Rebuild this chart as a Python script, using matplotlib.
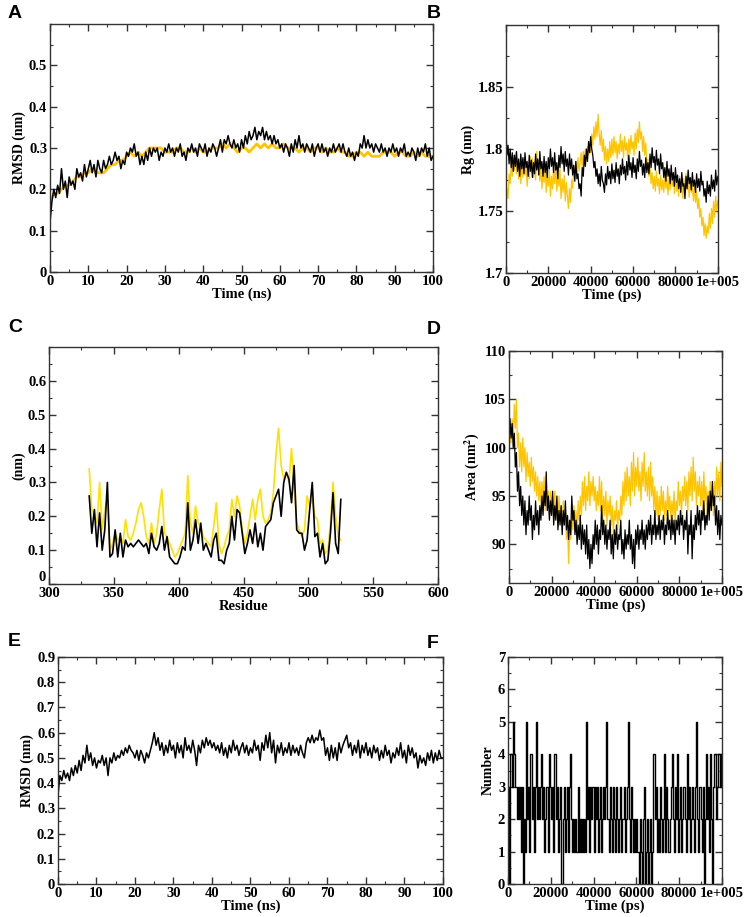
import matplotlib
matplotlib.use("Agg")
import matplotlib.pyplot as plt
from matplotlib.ticker import MultipleLocator, FuncFormatter

plt.rcParams['font.family'] = 'Liberation Serif'
plt.rcParams['font.weight'] = 'bold'
plt.rcParams['mathtext.fontset'] = 'stix'

YELLOW = '#FFC400'

# ---- A: backbone RMSD (ns) ----
time_ns = list(range(0, 101))
time_ns_fine = [i * 0.5 for i in range(0, 201)]
rmsd_a_black = [0.12, 0.17, 0.20, 0.18, 0.21, 0.19, 0.25, 0.20, 0.22, 0.18,
                0.23, 0.21, 0.22, 0.20, 0.25, 0.23, 0.24, 0.22, 0.26, 0.23,
                0.25, 0.27, 0.24, 0.26, 0.23, 0.27, 0.25, 0.24, 0.27, 0.25,
                0.26, 0.28, 0.26, 0.27, 0.29, 0.27, 0.28, 0.25, 0.27, 0.26,
                0.29, 0.28, 0.30, 0.29, 0.31, 0.28, 0.29, 0.26, 0.28, 0.26,
                0.29, 0.27, 0.30, 0.28, 0.30, 0.29, 0.30, 0.27, 0.29, 0.28,
                0.30, 0.29, 0.31, 0.29, 0.30, 0.28, 0.30, 0.29, 0.31, 0.28,
                0.29, 0.27, 0.30, 0.29, 0.31, 0.29, 0.30, 0.28, 0.31, 0.30,
                0.29, 0.31, 0.28, 0.30, 0.29, 0.31, 0.30, 0.28, 0.30, 0.32,
                0.29, 0.32, 0.31, 0.33, 0.31, 0.30, 0.32, 0.30, 0.31, 0.29,
                0.32, 0.30, 0.33, 0.31, 0.34, 0.32, 0.33, 0.35, 0.32, 0.34,
                0.33, 0.35, 0.32, 0.34, 0.32, 0.33, 0.31, 0.33, 0.31, 0.32,
                0.30, 0.31, 0.29, 0.31, 0.30, 0.28, 0.31, 0.29, 0.32, 0.30,
                0.33, 0.30, 0.31, 0.29, 0.31, 0.30, 0.29, 0.31, 0.28, 0.30,
                0.31, 0.29, 0.31, 0.29, 0.30, 0.28, 0.30, 0.29, 0.31, 0.29,
                0.30, 0.31, 0.29, 0.31, 0.29, 0.28, 0.30, 0.28, 0.29, 0.27,
                0.29, 0.28, 0.31, 0.30, 0.33, 0.30, 0.32, 0.30, 0.31, 0.29,
                0.31, 0.30, 0.29, 0.31, 0.29, 0.30, 0.28, 0.30, 0.29, 0.31,
                0.29, 0.30, 0.28, 0.30, 0.29, 0.31, 0.28, 0.29, 0.28, 0.30,
                0.29, 0.27, 0.30, 0.28, 0.30, 0.29, 0.31, 0.28, 0.30, 0.27,
                0.28]
rmsd_a_yellow = [0.17, 0.19, 0.19, 0.20, 0.21, 0.21, 0.22, 0.23, 0.23, 0.24,
                 0.24, 0.25, 0.24, 0.24, 0.24, 0.25, 0.26, 0.26, 0.27, 0.27,
                 0.28, 0.29, 0.28, 0.29, 0.28, 0.29, 0.30, 0.30, 0.30, 0.30,
                 0.29, 0.29, 0.29, 0.30, 0.30, 0.29, 0.29, 0.30, 0.29, 0.30,
                 0.29, 0.29, 0.30, 0.30, 0.30, 0.31, 0.30, 0.31, 0.30, 0.29,
                 0.30, 0.30, 0.29, 0.30, 0.31, 0.30, 0.31, 0.30, 0.31, 0.30,
                 0.30, 0.31, 0.30, 0.30, 0.30, 0.29, 0.30, 0.30, 0.29, 0.30,
                 0.30, 0.29, 0.30, 0.29, 0.29, 0.30, 0.29, 0.29, 0.28, 0.28,
                 0.29, 0.29, 0.28, 0.29, 0.28, 0.28, 0.28, 0.29, 0.29, 0.29,
                 0.28, 0.29, 0.29, 0.28, 0.28, 0.29, 0.28, 0.29, 0.28, 0.28, 0.28]

# ---- B: radius of gyration (ps) ----
time_ps_fine = [i * 500 for i in range(0, 201)]
rg_black = [1.815, 1.795, 1.803, 1.788, 1.800, 1.785, 1.797, 1.782, 1.795, 1.786,
            1.798, 1.782, 1.792, 1.778, 1.796, 1.784, 1.793, 1.780, 1.797, 1.785,
            1.790, 1.778, 1.795, 1.782, 1.791, 1.777, 1.789, 1.780, 1.796, 1.783,
            1.792, 1.779, 1.798, 1.784, 1.790, 1.778, 1.794, 1.781, 1.790, 1.777,
            1.793, 1.784, 1.800, 1.786, 1.793, 1.781, 1.797, 1.783, 1.789, 1.776,
            1.795, 1.785, 1.802, 1.788, 1.796, 1.782, 1.798, 1.786, 1.792, 1.779,
            1.796, 1.784, 1.792, 1.779, 1.787, 1.774, 1.790, 1.776, 1.780, 1.768,
            1.772, 1.762, 1.785, 1.778, 1.795, 1.786, 1.800, 1.790, 1.806, 1.797,
            1.810, 1.800, 1.795, 1.785, 1.790, 1.778, 1.784, 1.772, 1.780, 1.770,
            1.786, 1.775, 1.772, 1.765, 1.780, 1.771, 1.786, 1.776, 1.782, 1.772,
            1.788, 1.776, 1.783, 1.773, 1.789, 1.778, 1.784, 1.772, 1.787, 1.779,
            1.792, 1.780, 1.786, 1.775, 1.790, 1.779, 1.795, 1.783, 1.789, 1.777,
            1.793, 1.781, 1.787, 1.776, 1.792, 1.782, 1.798, 1.786, 1.791, 1.779,
            1.788, 1.777, 1.793, 1.781, 1.789, 1.780, 1.796, 1.785, 1.801, 1.789,
            1.794, 1.783, 1.799, 1.787, 1.792, 1.780, 1.796, 1.784, 1.789, 1.777,
            1.785, 1.774, 1.790, 1.778, 1.784, 1.772, 1.787, 1.775, 1.781, 1.770,
            1.785, 1.773, 1.779, 1.768, 1.776, 1.765, 1.781, 1.770, 1.772, 1.760,
            1.778, 1.768, 1.783, 1.772, 1.777, 1.767, 1.781, 1.770, 1.775, 1.765,
            1.780, 1.769, 1.776, 1.766, 1.782, 1.771, 1.774, 1.762, 1.768, 1.757,
            1.774, 1.764, 1.771, 1.762, 1.779, 1.768, 1.775, 1.766, 1.783, 1.771,
            1.778]
rg_yellow = [1.752, 1.768, 1.760, 1.780, 1.772, 1.790, 1.778, 1.795, 1.783, 1.797,
             1.780, 1.792, 1.776, 1.789, 1.772, 1.787, 1.777, 1.793, 1.779, 1.788,
             1.770, 1.785, 1.776, 1.794, 1.781, 1.792, 1.777, 1.790, 1.775, 1.798,
             1.784, 1.791, 1.774, 1.786, 1.768, 1.782, 1.773, 1.788, 1.765, 1.780,
             1.770, 1.783, 1.762, 1.778, 1.768, 1.785, 1.772, 1.789, 1.766, 1.780,
             1.770, 1.784, 1.760, 1.776, 1.765, 1.779, 1.758, 1.773, 1.763, 1.752,
             1.768, 1.757, 1.775, 1.768, 1.786, 1.776, 1.790, 1.779, 1.793, 1.782,
             1.789, 1.797, 1.785, 1.798, 1.788, 1.800, 1.790, 1.802, 1.795, 1.806,
             1.797, 1.812, 1.803, 1.818, 1.808, 1.822, 1.810, 1.828, 1.812, 1.803,
             1.815, 1.798, 1.808, 1.791, 1.802, 1.788, 1.800, 1.790, 1.806, 1.793,
             1.808, 1.795, 1.810, 1.797, 1.806, 1.792, 1.804, 1.796, 1.812, 1.798,
             1.807, 1.793, 1.810, 1.799, 1.805, 1.791, 1.808, 1.796, 1.811, 1.800,
             1.806, 1.795, 1.813, 1.800, 1.816, 1.805, 1.822, 1.808, 1.814, 1.798,
             1.810, 1.795, 1.805, 1.786, 1.792, 1.778, 1.786, 1.772, 1.781, 1.768,
             1.778, 1.766, 1.782, 1.770, 1.776, 1.764, 1.779, 1.767, 1.775, 1.765,
             1.780, 1.768, 1.776, 1.763, 1.778, 1.767, 1.783, 1.770, 1.777, 1.764,
             1.779, 1.766, 1.774, 1.762, 1.778, 1.765, 1.772, 1.760, 1.776, 1.764,
             1.780, 1.767, 1.773, 1.761, 1.776, 1.765, 1.771, 1.758, 1.770, 1.757,
             1.766, 1.752, 1.760, 1.745, 1.752, 1.738, 1.745, 1.730, 1.740, 1.728,
             1.738, 1.732, 1.748, 1.736, 1.752, 1.740, 1.758, 1.745, 1.762, 1.750,
             1.758]

# ---- C: RMSF per residue ----
residues = list(range(331, 527, 2))
rmsf_black = [0.26, 0.15, 0.22, 0.11, 0.21, 0.10, 0.16, 0.30, 0.08, 0.09,
              0.16, 0.08, 0.15, 0.08, 0.13, 0.11, 0.12, 0.11, 0.12, 0.13,
              0.12, 0.11, 0.12, 0.09, 0.15, 0.11, 0.10, 0.12, 0.17, 0.10,
              0.14, 0.08, 0.07, 0.06, 0.06, 0.08, 0.11, 0.10, 0.24, 0.10,
              0.13, 0.19, 0.12, 0.18, 0.10, 0.12, 0.10, 0.08, 0.13, 0.15,
              0.07, 0.07, 0.06, 0.10, 0.12, 0.20, 0.13, 0.22, 0.21, 0.15,
              0.09, 0.12, 0.16, 0.12, 0.18, 0.11, 0.15, 0.10, 0.17, 0.18,
              0.19, 0.24, 0.26, 0.28, 0.20, 0.30, 0.33, 0.31, 0.24, 0.35,
              0.16, 0.15, 0.15, 0.10, 0.13, 0.22, 0.30, 0.14, 0.15, 0.08,
              0.12, 0.06, 0.07, 0.15, 0.27, 0.12, 0.09, 0.25]
rmsf_yellow = [0.34, 0.22, 0.20, 0.18, 0.30, 0.16, 0.22, 0.25, 0.10, 0.12,
               0.15, 0.13, 0.14, 0.12, 0.19, 0.14, 0.13, 0.15, 0.18, 0.22,
               0.24, 0.20, 0.14, 0.12, 0.18, 0.12, 0.15, 0.22, 0.28, 0.15,
               0.14, 0.12, 0.10, 0.08, 0.09, 0.11, 0.13, 0.15, 0.32, 0.18,
               0.15, 0.23, 0.18, 0.17, 0.14, 0.13, 0.12, 0.11, 0.17, 0.24,
               0.12, 0.09, 0.11, 0.14, 0.16, 0.25, 0.20, 0.26, 0.23, 0.16,
               0.12, 0.15, 0.20, 0.25, 0.19, 0.25, 0.28, 0.20, 0.18, 0.19,
               0.21, 0.27, 0.38, 0.46, 0.35, 0.31, 0.33, 0.30, 0.40, 0.28,
               0.18, 0.16, 0.14, 0.16, 0.26, 0.23, 0.25, 0.20, 0.19, 0.12,
               0.13, 0.09, 0.10, 0.18, 0.30, 0.20, 0.14, 0.13]

# ---- D: SASA (ps) ----
sasa_black = [100.0, 103.0, 101.0, 102.5, 100.0, 101.5, 98.0, 99.5, 95.5, 97.5,
              94.0, 96.0, 93.0, 95.0, 92.0, 94.5, 91.0, 93.5, 92.0, 95.0,
              92.5, 94.0, 90.5, 93.0, 91.5, 94.5, 92.0, 93.5, 91.0, 94.0,
              92.5, 95.0, 93.0, 95.5, 94.0, 97.5, 93.5, 95.0, 92.5, 94.5,
              93.0, 95.5, 92.0, 94.0, 92.5, 95.0, 91.5, 93.5, 92.0, 94.0,
              91.0, 93.5, 92.0, 94.5, 91.5, 93.0, 90.5, 92.5, 91.0, 95.0,
              92.5, 93.5, 91.0, 92.5, 90.0, 92.0, 90.5, 93.0, 89.5, 92.0,
              90.0, 91.5, 89.0, 92.0, 88.5, 90.5, 87.5, 90.0, 88.0, 91.0,
              89.5, 92.5, 90.0, 92.0, 89.0, 91.5, 90.5, 94.0, 91.0, 92.5,
              90.0, 92.0, 89.5, 91.5, 90.5, 92.5, 89.0, 91.0, 88.5, 91.5,
              90.0, 92.0, 89.5, 91.0, 90.5, 92.5, 89.0, 90.5, 88.5, 91.5,
              89.5, 91.0, 90.0, 92.5, 89.5, 91.0, 88.0, 90.5, 87.5, 91.5,
              90.0, 92.0, 89.5, 91.5, 90.5, 92.5, 90.0, 91.5, 89.5, 92.0,
              90.5, 92.5, 91.0, 93.0, 90.0, 92.0, 91.0, 93.5, 90.5, 92.0,
              91.0, 93.0, 90.5, 92.5, 91.5, 93.0, 90.0, 92.0, 91.0, 93.5,
              91.5, 92.5, 90.5, 93.0, 91.0, 92.5, 90.0, 92.5, 91.5, 93.0,
              91.0, 93.5, 92.0, 93.0, 90.5, 92.5, 91.5, 93.5, 89.0, 92.0,
              91.0, 93.5, 88.5, 92.0, 90.5, 93.0, 91.5, 94.0, 92.0, 93.5,
              91.0, 93.5, 92.5, 94.5, 91.5, 93.0, 92.0, 95.0, 92.5, 95.5,
              93.5, 96.5, 94.0, 95.0, 92.0, 94.0, 91.0, 93.5, 90.5, 93.0,
              92.0]
sasa_yellow = [99.0, 101.5, 100.5, 103.0, 101.0, 104.5, 102.0, 105.0, 100.0, 101.5,
               98.0, 100.5, 97.5, 101.0, 98.0, 100.0, 96.5, 99.5, 97.0, 98.5,
               96.0, 99.0, 96.5, 98.0, 95.5, 97.5, 95.0, 97.0, 94.5, 96.5,
               94.0, 96.5, 94.5, 97.0, 93.5, 96.0, 94.0, 95.5, 93.0, 95.5,
               93.5, 95.0, 92.5, 95.5, 93.0, 94.5, 92.0, 95.0, 92.5, 94.0,
               91.5, 94.5, 92.0, 93.5, 90.5, 92.5, 88.0, 91.5, 90.5, 93.0,
               91.5, 94.0, 92.0, 93.5, 91.0, 94.5, 92.5, 95.0, 93.0, 96.5,
               94.0, 97.0, 93.5, 96.0, 94.5, 97.5, 94.0, 96.5, 95.0, 97.0,
               94.5, 96.0, 93.5, 95.5, 94.0, 97.0, 93.5, 96.5, 92.5, 95.0,
               93.0, 95.5, 92.0, 94.5, 93.0, 95.0, 92.0, 94.0, 91.0, 93.5,
               92.5, 94.5, 91.5, 93.5, 92.5, 95.0, 93.0, 96.5, 94.0, 97.5,
               94.5, 98.0, 95.0, 97.0, 94.0, 98.5, 95.5, 99.5, 95.0, 98.0,
               96.0, 99.0, 95.5, 97.5, 94.5, 98.5, 96.0, 99.5, 95.5, 97.5,
               95.0, 98.0, 94.5, 98.5, 95.0, 97.0, 93.5, 96.0, 93.0, 95.5,
               92.5, 95.0, 93.0, 96.0, 93.5, 95.5, 92.5, 94.5, 93.0, 96.0,
               93.5, 95.0, 92.5, 94.5, 93.0, 95.5, 92.0, 94.5, 93.5, 96.5,
               94.0, 95.5, 93.0, 96.0, 94.5, 97.0, 94.0, 96.5, 93.5, 97.5,
               95.0, 98.0, 94.5, 99.0, 95.5, 97.5, 94.0, 96.5, 95.0, 97.0,
               94.0, 96.5, 93.5, 97.5, 94.5, 96.0, 93.0, 95.5, 93.5, 96.5,
               94.0, 95.5, 93.0, 96.5, 94.5, 98.0, 95.0, 97.5, 94.5, 98.5,
               96.0]

# ---- E: ligand RMSD (ns) ----
rmsd_e = [0.35, 0.43, 0.41, 0.45, 0.42, 0.44, 0.41, 0.46, 0.43, 0.47,
          0.44, 0.49, 0.45, 0.51, 0.48, 0.55, 0.49, 0.52, 0.47, 0.50,
          0.46, 0.49, 0.48, 0.51, 0.47, 0.50, 0.43, 0.50, 0.48, 0.52,
          0.49, 0.51, 0.50, 0.53, 0.51, 0.54, 0.52, 0.55, 0.53, 0.52,
          0.50, 0.53, 0.49, 0.53, 0.51, 0.48, 0.52, 0.50, 0.53, 0.56,
          0.60, 0.55, 0.58, 0.53, 0.56, 0.51, 0.55, 0.52, 0.57, 0.53,
          0.55, 0.50, 0.56, 0.52, 0.55, 0.50, 0.58, 0.53, 0.55, 0.52,
          0.57, 0.53, 0.47, 0.55, 0.52, 0.57, 0.54, 0.58, 0.55, 0.57,
          0.54, 0.56, 0.53, 0.55, 0.52, 0.56, 0.51, 0.54, 0.50, 0.55,
          0.52, 0.57, 0.53, 0.55, 0.51, 0.54, 0.56, 0.52, 0.55, 0.51,
          0.54, 0.52, 0.57, 0.53, 0.55, 0.49, 0.56, 0.53, 0.59, 0.54,
          0.60, 0.52, 0.57, 0.48, 0.55, 0.52, 0.56, 0.51, 0.54, 0.52,
          0.56, 0.51, 0.55, 0.52, 0.54, 0.51, 0.55, 0.52, 0.50, 0.56,
          0.58, 0.56, 0.59, 0.56, 0.58, 0.57, 0.61, 0.57, 0.58, 0.51,
          0.54, 0.49, 0.55, 0.50, 0.54, 0.49, 0.56, 0.52, 0.55, 0.57,
          0.59, 0.54, 0.56, 0.51, 0.55, 0.52, 0.57, 0.50, 0.55, 0.52,
          0.56, 0.51, 0.54, 0.50, 0.55, 0.52, 0.54, 0.49, 0.53, 0.50,
          0.55, 0.51, 0.53, 0.48, 0.52, 0.50, 0.54, 0.51, 0.56, 0.50,
          0.53, 0.48, 0.55, 0.51, 0.54, 0.50, 0.52, 0.46, 0.51, 0.48,
          0.50, 0.47, 0.52, 0.49, 0.53, 0.48, 0.52, 0.49, 0.53, 0.50,
          0.50]

# ---- F: hydrogen bonds (ps) ----
hbonds = [3, 0, 4, 4, 3, 5, 4, 3, 2, 3,
          2, 3, 1, 3, 0, 2, 1, 5, 2, 3,
          1, 4, 2, 3, 1, 3, 5, 2, 3, 2,
          3, 4, 2, 3, 1, 2, 3, 1, 4, 3,
          2, 3, 1, 4, 4, 2, 3, 1, 2, 3,
          0, 2, 3, 1, 2, 3, 1, 3, 4, 2,
          1, 2, 1, 2, 1, 3, 1, 2, 1, 2,
          1, 2, 1, 5, 2, 3, 1, 3, 2, 3,
          1, 3, 2, 3, 1, 2, 3, 1, 2, 3,
          2, 3, 5, 2, 1, 3, 2, 1, 3, 2,
          1, 3, 2, 1, 2, 3, 1, 2, 3, 1,
          2, 3, 5, 2, 1, 3, 2, 1, 2, 1,
          2, 1, 0, 2, 1, 0, 2, 3, 0, 1,
          2, 0, 1, 2, 0, 1, 4, 2, 3, 1,
          2, 1, 3, 2, 1, 2, 4, 1, 3, 2,
          1, 2, 3, 4, 2, 1, 3, 2, 4, 1,
          2, 3, 1, 2, 3, 2, 1, 4, 2, 3,
          1, 2, 3, 2, 1, 3, 5, 2, 1, 3,
          2, 1, 3, 0, 2, 4, 2, 3, 1, 4,
          2, 0, 3, 4, 2, 3, 4, 4, 3, 4,
          4]


def ps_fmt(v, pos):
    if abs(v - 100000) < 1:
        return '1e+005'
    return '%g' % v


def style(ax, xmaj, xmin, ymaj, ymin):
    ax.xaxis.set_major_locator(MultipleLocator(xmaj))
    ax.xaxis.set_minor_locator(MultipleLocator(xmin))
    ax.yaxis.set_major_locator(MultipleLocator(ymaj))
    ax.yaxis.set_minor_locator(MultipleLocator(ymin))
    ax.tick_params(which='both', direction='in', top=True, right=True,
                   labelsize=10.5, color='#333333', pad=2)
    ax.tick_params(which='major', length=5, width=1)
    ax.tick_params(which='minor', length=2.5, width=0.8)
    for s in ax.spines.values():
        s.set_color('#333333')
        s.set_linewidth(1.0)
    ax.yaxis.set_major_formatter(FuncFormatter(lambda v, p: '%g' % round(v, 4)))
    ax.xaxis.set_major_formatter(FuncFormatter(lambda v, p: '%g' % round(v, 4)))


fig = plt.figure(figsize=(7.54, 9.17), dpi=100)

axA = fig.add_axes([0.0663, 0.7034, 0.508, 0.2704])
axB = fig.add_axes([0.671, 0.7023, 0.281, 0.2704])
axC = fig.add_axes([0.065, 0.3631, 0.516, 0.2585])
axD = fig.add_axes([0.675, 0.3642, 0.2825, 0.253])
axE = fig.add_axes([0.0769, 0.036, 0.5106, 0.2475])
axF = fig.add_axes([0.6737, 0.036, 0.2838, 0.2475])

# A
axA.plot(time_ns, rmsd_a_yellow, color=YELLOW, lw=2.0)
axA.plot(time_ns_fine, rmsd_a_black, color='black', lw=1.1)
style(axA, 10, 5, 0.1, 0.05)
axA.set_xlim(0, 100)
axA.set_ylim(0, 0.6)
axA.set_yticks([0, 0.1, 0.2, 0.3, 0.4, 0.5])
axA.set_xlabel('Time (ns)', fontsize=10.5, fontweight='bold', labelpad=0)
axA.set_ylabel('RMSD (nm)', fontsize=10, fontweight='bold', labelpad=2)

# B
axB.plot(time_ps_fine, rg_yellow, color=YELLOW, lw=0.9)
axB.plot(time_ps_fine, rg_black, color='black', lw=0.9)
style(axB, 20000, 10000, 0.05, 0.025)
axB.set_xlim(0, 100000)
axB.set_ylim(1.7, 1.9)
axB.set_yticks([1.7, 1.75, 1.8, 1.85])
axB.xaxis.set_major_formatter(FuncFormatter(ps_fmt))
axB.set_xlabel('Time (ps)', fontsize=10.5, fontweight='bold', labelpad=0)
axB.set_ylabel('Rg (nm)', fontsize=10, fontweight='bold', labelpad=2)

# C
axC.plot(residues, rmsf_yellow, color='#FFE000', lw=1.2)
axC.plot(residues, rmsf_black, color='black', lw=1.2)
style(axC, 50, 25, 0.1, 0.05)
axC.set_xlim(300, 600)
axC.set_ylim(0, 0.7)
axC.set_yticks([0, 0.1, 0.2, 0.3, 0.4, 0.5, 0.6])
axC.set_xlabel('Residue', fontsize=10.5, fontweight='bold', labelpad=0)
axC.set_ylabel('(nm)', fontsize=10, fontweight='bold', labelpad=2)
fig.canvas.draw()
axC.get_yticklabels()[0].set_verticalalignment('bottom')

# D
axD.plot(time_ps_fine, sasa_yellow, color=YELLOW, lw=0.9)
axD.plot(time_ps_fine, sasa_black, color='black', lw=0.9)
style(axD, 20000, 10000, 5, 2.5)
axD.set_xlim(0, 100000)
axD.set_ylim(86, 110)
axD.set_yticks([90, 95, 100, 105, 110])
axD.xaxis.set_major_formatter(FuncFormatter(ps_fmt))
axD.set_xlabel('Time (ps)', fontsize=10.5, fontweight='bold', labelpad=0)
axD.set_ylabel(r'Area (nm$^{\mathbf{2}}$)', fontsize=10, fontweight='bold', labelpad=2)

# E
axE.plot(time_ns_fine, rmsd_e, color='black', lw=1.1)
style(axE, 10, 5, 0.1, 0.05)
axE.set_xlim(0, 100)
axE.set_ylim(0, 0.9)
axE.set_xlabel('Time (ns)', fontsize=10.5, fontweight='bold', labelpad=0)
axE.set_ylabel('RMSD (nm)', fontsize=10, fontweight='bold', labelpad=2)

# F
axF.step(time_ps_fine, hbonds, where='post', color='black', lw=1.0)
style(axF, 20000, 10000, 1, 0.5)
axF.set_xlim(0, 100000)
axF.set_ylim(0, 7)
axF.xaxis.set_major_formatter(FuncFormatter(ps_fmt))
axF.set_xlabel('Time (ps)', fontsize=10.5, fontweight='bold', labelpad=0)
axF.set_ylabel('Number', fontsize=10, fontweight='bold', labelpad=2)

# panel letters
for lbl, x, y in [('A', 8, 14), ('B', 427, 14), ('C', 8, 328),
                  ('D', 427, 330), ('E', 8, 641), ('F', 427, 643)]:
    fig.text(x / 754, 1 - y / 917, lbl, fontsize=14, fontweight='bold',
             family='Liberation Sans', va='center', ha='left')

fig.savefig('out.png', dpi=100)
